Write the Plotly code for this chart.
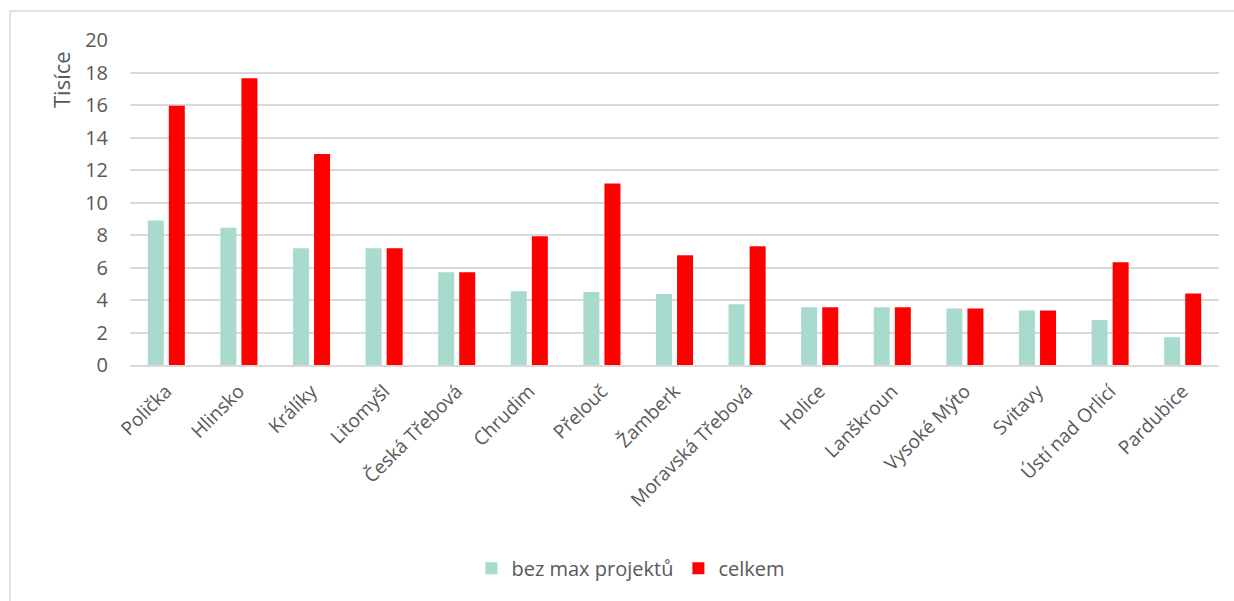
import plotly.graph_objects as go

# Hodnoty v tisících
mesta = ["Polička", "Hlinsko", "Králíky", "Litomyšl", "Česká Třebová", "Chrudim",
         "Přelouč", "Žamberk", "Moravská Třebová", "Holice", "Lanškroun",
         "Vysoké Mýto", "Svitavy", "Ústí nad Orlicí", "Pardubice"]
bez_max = [8.89, 8.45, 7.18, 7.18, 5.71, 4.54, 4.50, 4.37, 3.74, 3.55, 3.55, 3.47, 3.35, 2.77, 1.71]
celkem = [15.95, 17.65, 12.99, 7.18, 5.71, 7.93, 11.17, 6.75, 7.31, 3.55, 3.55, 3.47, 3.35, 6.32, 4.40]
y_ticks = [0, 2, 4, 6, 8, 10, 12, 14, 16, 18, 20]

TEXT = "#595959"
GRID = "#d9d9d9"
FONT = "Open Sans"

fig = go.Figure()
fig.add_trace(go.Bar(x=mesta, y=bez_max, name="bez max projektů",
                     marker=dict(color="#a8dbce", line=dict(width=0))))
fig.add_trace(go.Bar(x=mesta, y=celkem, name="celkem",
                     marker=dict(color="#ff0000", line=dict(width=0))))

W, H = 1234, 601
ml, mr, mt, mb = 130, 15, 40, 236
pw, ph = W - ml - mr, H - mt - mb

fig.update_layout(
    width=W, height=H,
    margin=dict(l=ml, r=mr, t=mt, b=mb, autoexpand=False),
    plot_bgcolor="white", paper_bgcolor="white",
    barmode="group", bargap=0.42, bargroupgap=0.24,
    font=dict(family=FONT, color=TEXT, size=17),
    showlegend=True,
    legend=dict(orientation="h", x=0.46, xanchor="center", y=-0.625, yanchor="middle",
                font=dict(size=20, color=TEXT), itemwidth=30, traceorder="normal"),
    shapes=[dict(type="rect", xref="paper", yref="paper",
                 x0=(10 - ml) / pw, x1=(W + 20 - ml) / pw,
                 y0=-(H + 20 - mt - ph) / ph, y1=1 + (mt - 11) / ph,
                 line=dict(color=GRID, width=1.5), layer="below")],
    # popisek osy y nahoře vlevo jako v Excelu
    annotations=[dict(text="Tisíce", xref="paper", yref="paper",
                      x=(61 - ml) / pw, y=(365 - 80) / ph, showarrow=False,
                      xanchor="center", yanchor="middle",
                      textangle=-90, font=dict(size=22, color=TEXT))],
)

fig.update_xaxes(tickangle=-45, tickfont=dict(size=19, color=TEXT),
                 showline=True, linecolor=GRID, linewidth=1.5,
                 showgrid=False, ticks="", automargin=False, ticklabelstandoff=6)
fig.update_yaxes(range=[0, 20], tickvals=y_ticks, tickfont=dict(size=20, color=TEXT),
                 showgrid=True, gridcolor=GRID, gridwidth=1.5, zeroline=False,
                 ticks="", ticklabelstandoff=21, automargin=False)

fig.write_html("out.html", config={"displayModeBar": False},
               post_script="document.body.style.margin='0';")
